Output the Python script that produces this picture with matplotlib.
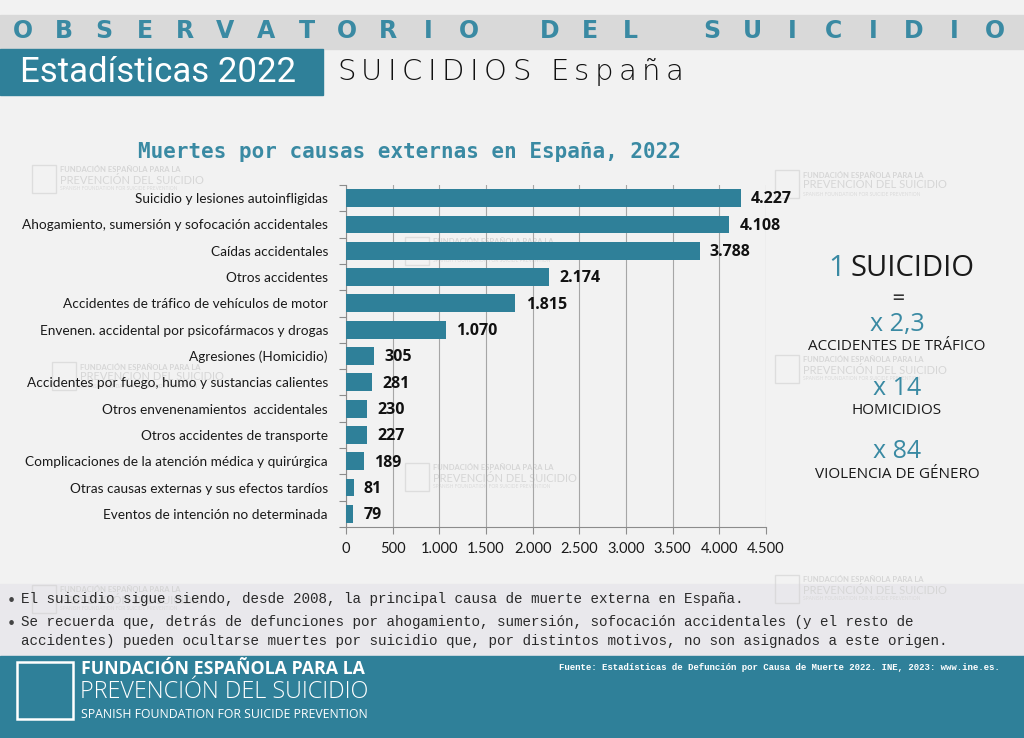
import matplotlib.pyplot as plt
from matplotlib.patches import Rectangle
from matplotlib.ticker import FuncFormatter, FixedLocator

causes = [
    "Suicidio y lesiones autoinfligidas",
    "Ahogamiento, sumersión y sofocación accidentales",
    "Caídas accidentales",
    "Otros accidentes",
    "Accidentes de tráfico de vehículos de motor",
    "Envenen. accidental por psicofármacos y drogas",
    "Agresiones (Homicidio)",
    "Accidentes por fuego, humo y sustancias calientes",
    "Otros envenenamientos  accidentales",
    "Otros accidentes de transporte",
    "Complicaciones de la atención médica y quirúrgica",
    "Otras causas externas y sus efectos tardíos",
    "Eventos de intención no determinada",
]
deaths = [4227, 4108, 3788, 2174, 1815, 1070, 305, 281, 230, 227, 189, 81, 79]
x_ticks = [0, 500, 1000, 1500, 2000, 2500, 3000, 3500, 4000, 4500]

ratio_values = ["x 2,3", "x 14", "x 84"]
ratio_labels = ["ACCIDENTES DE TRÁFICO", "HOMICIDIOS", "VIOLENCIA DE GÉNERO"]

bullets = [
    "El suicidio sigue siendo, desde 2008, la principal causa de muerte externa en España.",
    "Se recuerda que, detrás de defunciones por ahogamiento, sumersión, sofocación accidentales (y el resto de\naccidentes) pueden ocultarse muertes por suicidio que, por distintos motivos, no son asignados a este origen.",
]
source = "Fuente: Estadísticas de Defunción por Causa de Muerte 2022. INE, 2023: www.ine.es."

TEAL = "#2f8099"
TEAL_TXT = "#3a8aa3"
BG = "#f2f2f2"
W, H = 1024, 738


def fx(px):
    return px / W


def fy(py):
    return 1 - py / H


def dots(v):
    return f"{int(v):,}".replace(",", ".")


fig = plt.figure(figsize=(10.24, 7.38), dpi=100, facecolor=BG)
plt.rcParams["font.family"] = ["Lato", "DejaVu Sans"]
renderer = fig.canvas.get_renderer()

# background bands
bg = fig.add_axes([0, 0, 1, 1], zorder=-10)
bg.set_xlim(0, W)
bg.set_ylim(H, 0)
bg.axis("off")
bg.add_patch(Rectangle((0, 15), W, 34, color="#d9d9d9"))
bg.add_patch(Rectangle((0, 49), 323, 46, color=TEAL))
bg.add_patch(Rectangle((0, 584), W, 72, color="#e9e8ec"))
bg.add_patch(Rectangle((0, 656), W, 82, color=TEAL))
bg.add_patch(Rectangle((17, 662), 56, 57, fill=False, ec="white", lw=1.8))


def watermark(x, y):
    bg.add_patch(Rectangle((x, y), 24, 28, fill=False, ec="#d0d0d0", lw=1, alpha=0.6))
    bg.text(x + 28, y + 5, "FUNDACIÓN ESPAÑOLA PARA LA", fontsize=5.5, color="#d6d6d6",
            fontweight="bold", va="center")
    bg.text(x + 28, y + 15, "PREVENCIÓN DEL SUICIDIO", fontsize=8, color="#d6d6d6", va="center")
    bg.text(x + 28, y + 24, "SPANISH FOUNDATION FOR SUICIDE PREVENTION", fontsize=3.5,
            color="#dadada", va="center")


for wx, wy in [(32, 165), (405, 237), (775, 170), (775, 355), (52, 362), (405, 463), (32, 585), (775, 575)]:
    watermark(wx, wy)

# header
header = "OBSERVATORIO DEL SUICIDIO"
for i, ch in enumerate(header):
    fig.text(fx(23 + i * 40.5), fy(31), ch, ha="center", va="center", fontsize=17,
             fontweight="bold", color=TEAL_TXT, family="DejaVu Sans")
fig.text(fx(20), fy(72), "Estadísticas 2022", ha="left", va="center", fontsize=25,
         color="white", family="Roboto")

# letter-spaced subtitle
xpos = 337
for ch in "SUICIDIOS España":
    t = fig.text(fx(xpos), fy(72), ch, ha="left", va="center", fontsize=21,
                 color="#111111", family="DejaVu Sans", fontweight="light")
    if ch == " ":
        xpos += 14
    else:
        xpos += t.get_window_extent(renderer).width + 5.5

# chart
ax = fig.add_axes([fx(346), fy(527), fx(766 - 346), (527 - 185) / H], facecolor="none")
ypos = list(range(len(causes)))
ax.barh(ypos, deaths, height=0.68, color=TEAL, zorder=3)
for y, v in zip(ypos, deaths):
    ax.text(v + 110, y + 0.05, dots(v), va="center", ha="left", fontsize=11.5,
            fontweight="bold", color="#111111", family="Open Sans")
ax.set_xlim(0, 4500)
ax.set_ylim(len(causes) - 0.5, -0.5)
ax.xaxis.set_major_locator(FixedLocator(x_ticks))
ax.xaxis.set_major_formatter(FuncFormatter(lambda v, p: dots(v)))
ax.set_yticks(ypos)
ax.set_yticklabels(causes, fontsize=9.8, color="#1a1a1a")
ax.set_yticks([y - 0.5 for y in range(len(causes) + 1)], minor=True)
ax.tick_params(axis="y", which="major", length=0, pad=13)
ax.tick_params(axis="y", which="minor", length=5, color="#8c8c8c", width=0.8)
ax.tick_params(axis="x", length=5, color="#8c8c8c", width=0.8, labelsize=10.5,
               labelcolor="#1a1a1a", pad=6)
ax.grid(axis="x", color="#a6a6a6", lw=0.8, zorder=0)
for s in ["top", "right"]:
    ax.spines[s].set_visible(False)
for s in ["left", "bottom"]:
    ax.spines[s].set_color("#8c8c8c")
    ax.spines[s].set_linewidth(0.8)

fig.text(fx(409), fy(152), "Muertes por causas externas en España, 2022", ha="center",
         va="center", fontsize=15, fontweight="bold", color=TEAL_TXT, family="DejaVu Sans Mono")

# right panel
fig.text(fx(845), fy(268), "1", ha="right", va="center", fontsize=21, color=TEAL_TXT, family="Open Sans")
fig.text(fx(850), fy(268), "SUICIDIO", ha="left", va="center", fontsize=21, color="#1a1a1a", family="Open Sans")
fig.text(fx(898), fy(298), "=", ha="center", va="center", fontsize=17, color="#333333")
for i, (val, lab) in enumerate(zip(ratio_values, ratio_labels)):
    y0 = 325 + i * 63.5
    fig.text(fx(897), fy(y0), val, ha="center", va="center", fontsize=18, color=TEAL_TXT, family="Open Sans")
    fig.text(fx(897), fy(y0 + 22), lab, ha="center", va="center", fontsize=11, color="#1a1a1a", family="Open Sans")

# bullets
by = [600, 623]
for b, yb in zip(bullets, by):
    fig.text(fx(8), fy(yb), "•", ha="left", va="center", fontsize=9, color="#444444")
    fig.text(fx(21), fy(yb - 8), b, ha="left", va="top", fontsize=10.3, color="#2a2a2a",
             family="Liberation Mono", linespacing=1.45)

# footer
fig.text(fx(81), fy(669), "FUNDACIÓN ESPAÑOLA PARA LA", ha="left", va="center", fontsize=12.8,
         fontweight="bold", color="white", family="Open Sans")
fig.text(fx(80), fy(692), "PREVENCIÓN DEL SUICIDIO", ha="left", va="center", fontsize=16.8,
         fontweight="light", color="white", family="Open Sans")
fig.text(fx(81), fy(714), "SPANISH FOUNDATION FOR SUICIDE PREVENTION", ha="left", va="center",
         fontsize=8.8, color="white", family="Open Sans")
fig.text(fx(1000), fy(668), source, ha="right", va="center", fontsize=6.5, fontweight="bold",
         color="white", family="Liberation Mono")

fig.savefig("out.png", dpi=100, facecolor=BG)
